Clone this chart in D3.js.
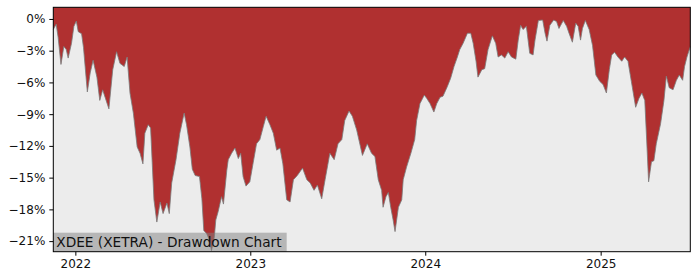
<!DOCTYPE html>
<html>
<head>
<meta charset="utf-8">
<script src="https://cdn.jsdelivr.net/npm/d3@7"></script>
<style>
	body { margin: 0; background: #fff; }
	text { font-family: "DejaVu Sans", sans-serif; }
</style>
</head>
<body>
<div id="chart"></div>
<script>
	// drawdown values (percent below running peak)
	var dates = [
		"2021-11-16","2021-11-22","2021-11-26","2021-12-02","2021-12-08","2021-12-13","2021-12-17","2021-12-24","2021-12-29",
		"2022-01-03","2022-01-07","2022-01-14","2022-01-18","2022-01-26","2022-02-01","2022-02-07","2022-02-15","2022-02-21","2022-02-27",
		"2022-03-04","2022-03-12","2022-03-20","2022-03-28","2022-04-04","2022-04-13","2022-04-19","2022-04-25","2022-05-02","2022-05-10",
		"2022-05-16","2022-05-22","2022-05-26","2022-06-02","2022-06-07","2022-06-14","2022-06-20","2022-06-27","2022-07-03","2022-07-11",
		"2022-07-16","2022-07-21","2022-07-30","2022-08-07","2022-08-16","2022-08-21","2022-08-28","2022-09-02","2022-09-08","2022-09-17",
		"2022-09-22","2022-09-26","2022-10-02","2022-10-08","2022-10-12","2022-10-18","2022-10-21","2022-10-26","2022-11-02","2022-11-06",
		"2022-11-13","2022-11-16","2022-11-23","2022-11-30","2022-12-07","2022-12-12","2022-12-17","2022-12-23","2022-12-31",
		"2023-01-07","2023-01-14","2023-01-21","2023-01-28","2023-02-03","2023-02-11","2023-02-18","2023-02-25","2023-03-04","2023-03-10",
		"2023-03-18","2023-03-25","2023-04-01","2023-04-09","2023-04-20","2023-04-29","2023-05-06","2023-05-14","2023-05-21","2023-05-30",
		"2023-06-06","2023-06-16","2023-06-25","2023-07-03","2023-07-11","2023-07-17","2023-07-26","2023-08-02","2023-08-11","2023-08-23",
		"2023-09-02","2023-09-11","2023-09-18","2023-09-25","2023-10-02","2023-10-05","2023-10-11","2023-10-16","2023-10-21","2023-10-26",
		"2023-10-30","2023-11-06","2023-11-13","2023-11-16","2023-11-23","2023-12-02","2023-12-10","2023-12-14","2023-12-21","2023-12-30",
		"2024-01-04","2024-01-11","2024-01-19","2024-01-25","2024-02-01","2024-02-07","2024-02-16","2024-02-23","2024-03-01","2024-03-08",
		"2024-03-13","2024-03-20","2024-03-29","2024-04-05","2024-04-10","2024-04-16","2024-04-20","2024-04-28","2024-05-04","2024-05-11",
		"2024-05-20","2024-05-27","2024-06-01","2024-06-08","2024-06-15","2024-06-22","2024-06-29","2024-07-08","2024-07-13","2024-07-18",
		"2024-07-23","2024-07-30","2024-08-06","2024-08-13","2024-08-17","2024-08-24","2024-09-02","2024-09-07","2024-09-11","2024-09-17",
		"2024-09-25","2024-10-01","2024-10-06","2024-10-15","2024-10-22","2024-10-27","2024-11-03","2024-11-10","2024-11-15","2024-11-20",
		"2024-11-24","2024-11-30","2024-12-08","2024-12-15","2024-12-22","2024-12-30",
		"2025-01-06","2025-01-13","2025-01-19","2025-01-24","2025-01-30","2025-02-06","2025-02-14","2025-02-20","2025-02-27","2025-03-06",
		"2025-03-15","2025-03-22","2025-03-28","2025-04-03","2025-04-07","2025-04-11","2025-04-17","2025-04-22","2025-04-27","2025-05-06",
		"2025-05-13","2025-05-18","2025-05-24","2025-06-01","2025-06-08","2025-06-14","2025-06-21","2025-06-25","2025-06-30","2025-07-07"
	];
	var drawdown = [
		-1.0,-0.5,-1.7,-4.3,-2.6,-2.9,-3.7,-2.3,-0.7,
		-0.2,-1.2,-1.4,-2.7,-6.9,-5.1,-3.9,-5.5,-7.7,-6.7,
		-7.4,-8.5,-4.8,-3.1,-4.2,-4.5,-3.6,-7.0,-8.9,-12.1,
		-12.7,-13.7,-10.8,-10.0,-10.3,-17.1,-19.2,-17.3,-18.4,-17.4,
		-18.4,-15.5,-13.3,-10.8,-8.9,-10.0,-12.1,-14.2,-14.8,-14.9,
		-17.0,-20.0,-20.3,-20.9,-21.9,-20.6,-19.0,-18.2,-16.8,-17.5,
		-14.3,-13.3,-12.7,-12.2,-13.2,-12.7,-14.9,-15.8,-15.4,
		-13.6,-11.8,-11.4,-10.2,-9.2,-10.0,-10.8,-12.4,-12.2,-13.7,
		-17.1,-17.3,-15.2,-14.8,-14.1,-15.2,-15.5,-16.2,-15.7,-17.0,
		-15.2,-12.7,-13.3,-11.8,-11.4,-9.6,-8.7,-9.2,-10.5,-12.9,
		-11.8,-12.7,-13.0,-15.2,-16.2,-17.8,-16.8,-16.4,-17.8,-19.0,
		-20.1,-17.8,-17.1,-15.2,-14.0,-12.7,-11.4,-9.6,-8.0,-7.2,
		-7.5,-8.0,-8.8,-8.0,-7.4,-7.3,-6.4,-5.6,-4.5,-3.6,
		-2.9,-2.3,-1.35,-1.35,-2.3,-4.0,-5.5,-4.8,-4.7,-2.9,
		-1.6,-2.3,-3.6,-3.4,-3.7,-3.1,-3.6,-3.8,-2.0,-0.6,
		-1.0,-0.7,-3.25,-3.4,-2.0,-0.15,-0.1,-1.35,-2.1,-0.6,
		-0.1,-0.25,-0.9,-0.15,-0.7,-1.35,-2.2,-0.4,-0.7,-2.0,
		-0.9,-0.15,-1.0,-2.5,-5.3,-5.9,
		-6.2,-7.0,-4.8,-3.4,-3.15,-3.6,-4.0,-3.6,-4.0,-5.9,
		-8.35,-7.5,-7.0,-7.7,-11.45,-15.4,-13.5,-13.4,-11.8,-9.9,
		-7.7,-5.4,-6.5,-6.7,-5.8,-5.3,-5.8,-4.5,-3.6,-2.6
	];
	var yTicks = [0, -3, -6, -9, -12, -15, -18, -21];
	var xTicks = ["2022-01-01", "2023-01-01", "2024-01-01", "2025-01-01"];
	var title = "XDEE (XETRA) - Drawdown Chart";

	(function () {
		'use strict';

		var width = 700, height = 280;
		var plotLeft = 53.3, plotRight = 690.3, plotTop = 7.3, plotBottom = 251.7;
		var parse = d3.timeParse("%Y-%m-%d");
		var data = dates.map(function (d, i) { return { date: parse(d), v: drawdown[i] }; });

		var svg = d3.select('#chart').append('svg')
			.attr('width', width)
			.attr('height', height);

		var x = d3.scaleTime()
			.domain(d3.extent(data, function (d) { return d.date; }))
			.range([plotLeft, plotRight]);
		var y = d3.scaleLinear()
			.domain([-22.0, 1.1])
			.range([plotBottom, plotTop]);

		svg.append('rect')
			.attr('x', plotLeft).attr('y', plotTop)
			.attr('width', plotRight - plotLeft).attr('height', plotBottom - plotTop)
			.attr('fill', '#ececec');

		// red region runs from the top of the axes down to the drawdown line
		var area = d3.area()
			.x(function (d) { return x(d.date); })
			.y0(plotTop)
			.y1(function (d) { return y(d.v); });
		svg.append('path')
			.datum(data)
			.attr('d', area)
			.attr('fill', '#b03030');

		var line = d3.line()
			.x(function (d) { return x(d.date); })
			.y(function (d) { return y(d.v); });
		svg.append('path')
			.datum(data)
			.attr('d', line)
			.attr('fill', 'none')
			.attr('stroke', '#7a7a7a')
			.attr('stroke-width', 0.8);

		// title box sitting on the bottom-left corner
		var label = svg.append('text')
			.attr('x', plotLeft + 3)
			.attr('y', plotBottom - 4.5)
			.attr('font-size', '13.7px')
			.attr('fill', '#111')
			.text(title);
		var bb = label.node().getBBox();
		svg.insert('rect', function () { return label.node(); })
			.attr('x', plotLeft)
			.attr('y', plotTop + 225.4)
			.attr('width', bb.width + 7.5)
			.attr('height', plotBottom - plotTop - 225.4)
			.attr('fill', '#808080')
			.attr('fill-opacity', 0.5);

		var yAxis = d3.axisLeft(y)
			.tickValues(yTicks)
			.tickSize(4)
			.tickPadding(4)
			.tickFormat(function (d) { return (d < 0 ? '\u2212' + (-d) : d) + '%'; });
		var gy = svg.append('g')
			.attr('transform', 'translate(' + plotLeft + ',0)')
			.call(yAxis);

		var xAxis = d3.axisBottom(x)
			.tickValues(xTicks.map(parse))
			.tickSize(4)
			.tickPadding(4)
			.tickFormat(d3.timeFormat('%Y'));
		var gx = svg.append('g')
			.attr('transform', 'translate(0,' + plotBottom + ')')
			.call(xAxis);

		[gx, gy].forEach(function (g) {
			g.select('.domain').remove();
			g.selectAll('text').attr('font-size', '12px').attr('fill', '#111').attr('font-family', '"DejaVu Sans", sans-serif');
			g.selectAll('line').attr('stroke', '#000');
		});

		svg.append('rect')
			.attr('x', plotLeft).attr('y', plotTop)
			.attr('width', plotRight - plotLeft).attr('height', plotBottom - plotTop)
			.attr('fill', 'none')
			.attr('stroke', '#000')
			.attr('stroke-width', 1);
	}());
</script>
</body>
</html>
